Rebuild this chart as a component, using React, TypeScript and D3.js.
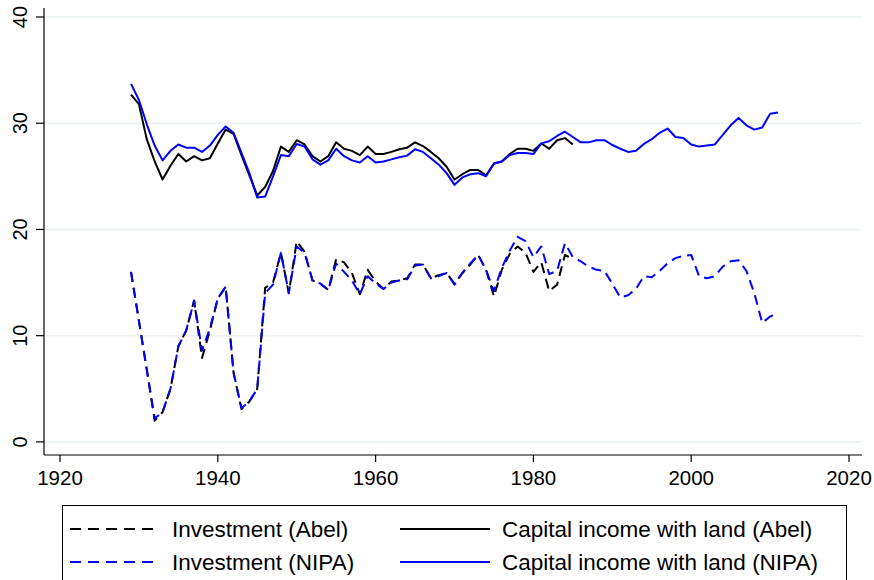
import { useEffect, useRef } from "react";
import * as d3 from "d3";

const nipaYears = d3.range(1929, 2012);
const abelYears = d3.range(1929, 1986);

const capIncomeAbel = [
  32.7, 31.8, 28.5, 26.4, 24.7, 26.0, 27.1, 26.4, 26.9, 26.5,
  26.7, 28.1, 29.4, 29.0, 27.0, 25.1, 23.2, 24.0, 25.5, 27.8,
  27.3, 28.4, 28.0, 26.9, 26.4, 26.9, 28.2, 27.6, 27.4, 27.0,
  27.8, 27.1, 27.1, 27.3, 27.55, 27.7, 28.2, 27.85, 27.3, 26.7,
  25.9, 24.7, 25.2, 25.6, 25.6, 25.1, 26.2, 26.4, 27.1, 27.6,
  27.6, 27.4, 28.1, 27.6, 28.4, 28.6, 28.0,
];

const capIncomeNipa = [
  33.7, 32.2, 29.9, 27.9, 26.5, 27.4, 28.0, 27.7, 27.7, 27.3,
  27.9, 28.9, 29.7, 29.1, 27.2, 25.3, 23.0, 23.1, 25.0, 27.0,
  26.9, 28.05, 27.8, 26.6, 26.1, 26.5, 27.6, 26.9, 26.5, 26.3,
  26.9, 26.3, 26.4, 26.6, 26.8, 26.95, 27.55, 27.3, 26.7, 26.1,
  25.3, 24.2, 24.9, 25.2, 25.3, 25.0, 26.2, 26.4, 27.0, 27.2,
  27.2, 27.1, 28.1, 28.3, 28.8, 29.2, 28.7, 28.2, 28.2, 28.4,
  28.4, 27.95, 27.6, 27.3, 27.4, 28.05, 28.5, 29.1, 29.5, 28.7,
  28.6, 28.0, 27.8, 27.9, 28.0, 28.9, 29.8, 30.5, 29.8, 29.4,
  29.6, 30.9, 31.0,
];

const investAbel = [
  16.0, 11.4, 6.8, 2.0, 2.8, 5.0, 9.0, 10.5, 13.3, 7.9,
  10.5, 13.5, 14.6, 6.5, 3.1, 3.8, 5.0, 14.5, 15.0, 17.8,
  14.0, 18.9, 17.9, 15.2, 14.9, 14.3, 17.2, 16.9, 15.9, 13.9,
  16.2, 15.1, 14.4, 15.1, 15.2, 15.4, 16.7, 16.7, 15.4, 15.7,
  15.9, 14.9, 15.9, 16.7, 17.6, 16.2, 13.7, 16.2, 17.7, 18.4,
  17.8, 16.0, 16.9, 14.2, 14.8, 17.6, 17.2,
];

const investNipa = [
  16.0, 11.4, 6.8, 2.2, 2.8, 5.0, 9.0, 10.5, 13.3, 8.6,
  10.7, 13.5, 14.6, 6.5, 3.2, 3.8, 5.0, 14.0, 14.8, 17.8,
  14.0, 18.4, 17.8, 15.2, 14.9, 14.3, 16.8, 16.0, 15.2, 13.9,
  15.6, 14.9, 14.4, 15.0, 15.2, 15.3, 16.6, 16.7, 15.4, 15.6,
  15.9, 14.8, 15.9, 16.8, 17.6, 16.2, 14.2, 16.4, 18.0, 19.3,
  18.9, 17.4, 18.4, 15.8, 16.1, 18.7, 17.4, 17.0, 16.5, 16.2,
  16.1, 14.9, 13.6, 13.8, 14.4, 15.6, 15.5, 16.1, 16.8, 17.3,
  17.5, 17.6, 15.6, 15.4, 15.6, 16.5, 17.0, 17.1, 16.1, 14.0,
  11.2, 11.8, 12.2,
];

const yTicks = [0, 10, 20, 30, 40];
const xTicks = [1920, 1940, 1960, 1980, 2000, 2020];

const legendItems = [
  { label: "Investment (Abel)", color: "#000000", dashed: true },
  { label: "Capital income with land (Abel)", color: "#000000", dashed: false },
  { label: "Investment (NIPA)", color: "#0000ff", dashed: true },
  { label: "Capital income with land (NIPA)", color: "#0000ff", dashed: false },
];

export default function App() {
  const ref = useRef<SVGSVGElement>(null);

  useEffect(() => {
    const width = 874;
    const height = 580;
    const font = "'Liberation Sans', Arial, Helvetica, sans-serif";

    const svg = d3.select(ref.current)
      .attr("width", width)
      .attr("height", height);

    svg.selectAll("*").remove();

    svg.append("rect")
      .attr("width", width)
      .attr("height", height)
      .attr("fill", "#ffffff");

    const x = d3.scaleLinear().domain([1920, 2020]).range([60, 849]);
    const y = d3.scaleLinear().domain([0, 40]).range([441.9, 17]);

    const left = 44;
    const right = 862;
    const bottom = 455;

    // gridlines
    svg.append("g")
      .selectAll("line")
      .data(yTicks)
      .join("line")
      .attr("x1", left)
      .attr("x2", right)
      .attr("y1", d => y(d))
      .attr("y2", d => y(d))
      .attr("stroke", "#eaf2f3")
      .attr("stroke-width", 1.5);

    // y axis
    const yAxis = svg.append("g");
    yAxis.append("line")
      .attr("x1", left).attr("x2", left)
      .attr("y1", 8).attr("y2", bottom)
      .attr("stroke", "#000").attr("stroke-width", 1.2);
    yAxis.selectAll("line.tick")
      .data(yTicks)
      .join("line")
      .attr("class", "tick")
      .attr("x1", left - 8).attr("x2", left)
      .attr("y1", d => y(d)).attr("y2", d => y(d))
      .attr("stroke", "#000").attr("stroke-width", 1.2);
    yAxis.selectAll("text")
      .data(yTicks)
      .join("text")
      .attr("transform", d => `translate(${left - 17},${y(d)}) rotate(-90)`)
      .attr("text-anchor", "middle")
      .attr("font-family", font)
      .attr("font-size", 20)
      .text(d => d);

    // x axis
    const xAxis = svg.append("g");
    xAxis.append("line")
      .attr("x1", left).attr("x2", right)
      .attr("y1", bottom).attr("y2", bottom)
      .attr("stroke", "#000").attr("stroke-width", 1.2);
    xAxis.selectAll("line.tick")
      .data(xTicks)
      .join("line")
      .attr("class", "tick")
      .attr("x1", d => x(d)).attr("x2", d => x(d))
      .attr("y1", bottom).attr("y2", bottom + 7)
      .attr("stroke", "#000").attr("stroke-width", 1.2);
    xAxis.selectAll("text")
      .data(xTicks)
      .join("text")
      .attr("x", d => x(d))
      .attr("y", bottom + 30)
      .attr("text-anchor", "middle")
      .attr("font-family", font)
      .attr("font-size", 20.5)
      .text(d => d);

    const line = d3.line<[number, number]>()
      .x(d => x(d[0]))
      .y(d => y(d[1]));

    const series = [
      { years: abelYears, values: investAbel, color: "#000000", dashed: true },
      { years: abelYears, values: capIncomeAbel, color: "#000000", dashed: false },
      { years: nipaYears, values: investNipa, color: "#0000ff", dashed: true },
      { years: nipaYears, values: capIncomeNipa, color: "#0000ff", dashed: false },
    ];

    series.forEach(s => {
      svg.append("path")
        .datum(s.years.map((yr, i) => [yr, s.values[i]] as [number, number]))
        .attr("d", line)
        .attr("fill", "none")
        .attr("stroke", s.color)
        .attr("stroke-width", 2)
        .attr("stroke-linejoin", "round")
        .attr("stroke-dasharray", s.dashed ? "10,6" : null);
    });

    // legend
    const legend = svg.append("g");
    legend.append("rect")
      .attr("x", 62.5).attr("y", 505.5)
      .attr("width", 784).attr("height", 90)
      .attr("fill", "#fff")
      .attr("stroke", "#000")
      .attr("stroke-width", 1);

    legendItems.forEach((item, i) => {
      const col = i % 2;
      const row = Math.floor(i / 2);
      const lx = col === 0 ? 70 : 400;
      const ly = 529 + row * 33;
      legend.append("line")
        .attr("x1", lx).attr("x2", lx + 90)
        .attr("y1", ly).attr("y2", ly)
        .attr("stroke", item.color)
        .attr("stroke-width", 2)
        .attr("stroke-dasharray", item.dashed ? "11,7" : null);
      legend.append("text")
        .attr("x", lx + 102)
        .attr("y", ly + 8)
        .attr("font-family", font)
        .attr("font-size", 22.5)
        .text(item.label);
    });
  }, []);

  return (
    <svg
      ref={ref}
      style={{ position: "absolute", left: 0, top: 0, display: "block" }}
    ></svg>
  );
}
